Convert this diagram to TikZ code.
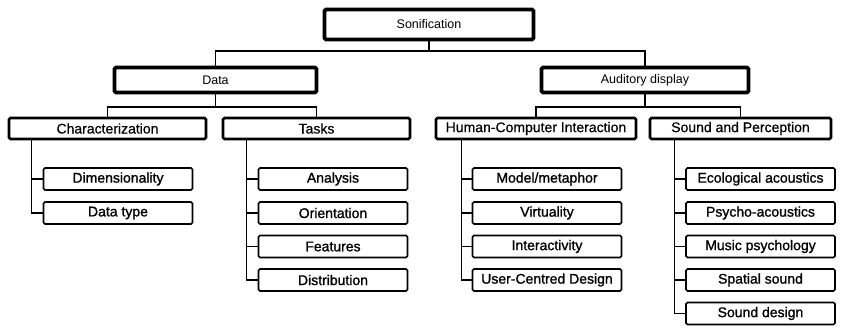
\documentclass[tikz,border=0pt]{standalone}
\usepackage{fontspec}
\setmainfont{Liberation Sans}
\newfontfamily\heavysans[FakeBold=1.2]{Liberation Sans}
\newfontfamily\midsans[FakeBold=0.5]{Liberation Sans}
\begin{document}
\begin{tikzpicture}[x=1pt,y=-1pt,
  box/.style={draw, rectangle, inner sep=0pt, rounded corners=1.5pt, align=center},
  topbox/.style={box, line width=3.6pt, minimum height=30pt, font=\fontsize{12.5}{14}\selectfont},
  midbox/.style={box, line width=2.6pt, minimum height=21pt, font=\midsans\fontsize{14}{15}\selectfont},
  leafbox/.style={box, line width=1.7pt, minimum width=149pt, minimum height=22pt, font=\heavysans\fontsize{14}{15}\selectfont},
  link/.style={line width=1.3pt}]
  \useasboundingbox (0,0) rectangle (844,330);

  % root and first level
  \node[topbox, minimum width=209pt] (son) at (429,24.5) {Sonification};
  \node[topbox, minimum width=202pt, minimum height=25pt] (data) at (215.5,80) {Data};
  \node[topbox, minimum width=207pt, minimum height=25pt] (aud) at (645,80) {Auditory display};

  % second level
  \node[midbox, minimum width=197pt] (char) at (107.5,128.5) {Characterization};
  \node[midbox, minimum width=187pt] (tasks) at (316.5,128.5) {Tasks};
  \node[midbox, minimum width=200pt] (hci) at (536,128.5) {Human-Computer Interaction};
  \node[midbox, minimum width=181pt] (snd) at (740.5,128.5) {Sound and Perception};

  % leaves under Characterization
  \node[leafbox] (dim) at (118,179) {Dimensionality};
  \node[leafbox] (dtype) at (118,213) {Data type};
  % leaves under Tasks
  \node[leafbox] (ana) at (333,179) {Analysis};
  \node[leafbox] (ori) at (333,213) {Orientation};
  \node[leafbox] (fea) at (333,246.5) {Features};
  \node[leafbox] (dis) at (333,280) {Distribution};
  % leaves under Human-Computer Interaction
  \node[leafbox] (mod) at (547,179) {Model/metaphor};
  \node[leafbox] (vir) at (547,213) {Virtuality};
  \node[leafbox] (int) at (547,246.5) {Interactivity};
  \node[leafbox] (ucd) at (547,280) {User-Centred Design};
  % leaves under Sound and Perception
  \node[leafbox] (eco) at (760.5,179) {Ecological acoustics};
  \node[leafbox] (psy) at (760.5,213) {Psycho-acoustics};
  \node[leafbox] (mus) at (760.5,246.5) {Music psychology};
  \node[leafbox] (spa) at (760.5,280) {Spatial sound};
  \node[leafbox] (sde) at (760.5,313.5) {Sound design};

  % bus lines between levels
  \coordinate (bus0) at (0,51);
  \coordinate (bus1) at (0,107);
  \draw[link] (son.south) -- (son.south |- bus0);
  \draw[link] (data.north) -- (data.north |- bus0) -- (aud.north |- bus0) -- (aud.north);
  \draw[link] (data.south) -- (data.south |- bus1);
  \draw[link] (char.north) -- (char.north |- bus1) -- (tasks.north |- bus1) -- (tasks.north);
  \draw[link] (aud.south) -- (aud.south |- bus1);
  \draw[link] (hci.north) -- (hci.north |- bus1) -- (snd.north |- bus1) -- (snd.north);

  % trunks to the leaves
  \coordinate (tc) at ([xshift=24pt]char.south west);
  \coordinate (tt) at ([xshift=25pt]tasks.south west);
  \coordinate (th) at ([xshift=27pt]hci.south west);
  \coordinate (ts) at ([xshift=26pt]snd.south west);
  \foreach \leaf in {dim,dtype} \draw[link] (tc) |- (\leaf.west);
  \foreach \leaf in {ana,ori,fea,dis} \draw[link] (tt) |- (\leaf.west);
  \foreach \leaf in {mod,vir,int,ucd} \draw[link] (th) |- (\leaf.west);
  \foreach \leaf in {eco,psy,mus,spa,sde} \draw[link] (ts) |- (\leaf.west);
\end{tikzpicture}
\end{document}
